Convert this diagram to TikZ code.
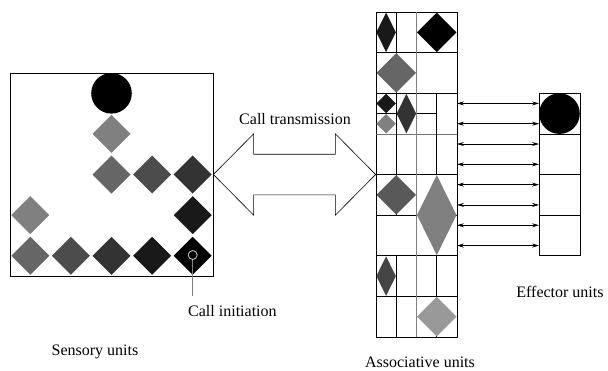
\documentclass[tikz,border=0pt]{standalone}
\usepackage{fontspec}
\setmainfont{Liberation Serif}
\usepackage{tikz}
\usetikzlibrary{arrows.meta,%
                shapes.geometric,positioning}

\begin{document}
\begin{tikzpicture}[x=1pt,y=-1pt,
  unitbox/.style={draw,line width=0.8pt,inner sep=0pt},
  dia/.style={diamond,draw=none,inner sep=0pt,outer sep=0pt},
  blob/.style={circle,fill=black,inner sep=0pt,minimum size=40.6pt},
  gridline/.style={line width=0.8pt},
  biarrow/.style={{Stealth[length=7pt,width=4pt,inset=2.5pt]}-{Stealth[length=7pt,width=4pt,inset=2.5pt]},line width=0.6pt},
  lbl/.style={font=\fontsize{16}{19}\selectfont,inner sep=0pt,anchor=base}]
\useasboundingbox (0,0) rectangle (608,370);
\node[unitbox,minimum width=203pt,minimum height=203pt] (sens) at (111.5,174.5) {};
\node[blob] (sc) at (111.5,93.3) {};
\node[dia,minimum size=38pt,fill=black!50] (s1) at (111.5,133.9) {};
\node[dia,minimum size=38pt,fill=black!60] (s2) at (111.5,174.5) {};
\node[dia,minimum size=38pt,fill=black!70] (s3) at (152.1,174.5) {};
\node[dia,minimum size=38pt,fill=black!80] (s4) at (192.7,174.5) {};
\node[dia,minimum size=38pt,fill=black!50] (s5) at (30.3,215.1) {};
\node[dia,minimum size=38pt,fill=black!90] (s6) at (192.7,215.1) {};
\node[dia,minimum size=38pt,fill=black!60] (s7) at (30.3,255.75) {};
\node[dia,minimum size=38pt,fill=black!70] (s8) at (70.9,255.75) {};
\node[dia,minimum size=38pt,fill=black!80] (s9) at (111.5,255.75) {};
\node[dia,minimum size=38pt,fill=black!90] (s10) at (152.1,255.75) {};
\node[dia,minimum size=38pt,fill=black] (s11) at (192.7,255.75) {};
\node[circle,draw=black!20,line width=0.8pt,minimum size=9pt,inner sep=0pt] (ci) at (192.7,255) {};
\coordinate (ciend) at (192.7,296);
\draw[black!50,line width=0.8pt] (ci) -- (ciend);
\node[lbl,anchor=base west] (cil) at (188,316) {Call initiation};
\node[lbl] (sensl) at (95,355) {Sensory units};
\node[unitbox,minimum width=81pt,minimum height=325pt] (assoc) at (416.5,174.5) {};
\draw[line width=0.6pt] (sens.east) -- (253.6,133.9) -- (253.6,154.2) -- (335.4,154.2) -- (335.4,133.9)
  -- (assoc.west) -- (335.4,215.1) -- (335.4,194.8) -- (253.6,194.8) -- (253.6,215.1) -- cycle;
\node[lbl] (ctl) at (295,124) {Call transmission};
\foreach \yy in {52.6,93.25,174.5,215.1,255.75,296.4}
  \draw[gridline] (376,\yy) -- (457,\yy);
\draw[gridline,black!55] (376,133.9) -- (457,133.9);
\draw[gridline] (376,113.6) -- (436.75,113.6);
\draw[gridline] (396.25,12) -- (396.25,215.1) (396.25,255.75) -- (396.25,337);
\draw[gridline] (436.75,93.25) -- (436.75,174.5) (436.75,255.75) -- (436.75,337);
\draw[gridline,black!50,line width=1pt] (416.5,12) -- (416.5,337);
\node[dia,minimum width=19.5pt,minimum height=39.5pt,fill=black!90] (a1) at (386.1,32.3) {};
\node[dia,minimum width=39.5pt,minimum height=39.5pt,fill=black] (a2) at (436.75,32.3) {};
\node[dia,minimum width=39.5pt,minimum height=39.5pt,fill=black!60] (a3) at (396.25,72.9) {};
\node[dia,minimum width=19.5pt,minimum height=19.5pt,fill=black!90] (a4) at (386.1,103.4) {};
\node[dia,minimum width=19.5pt,minimum height=19.5pt,fill=black!50] (a5) at (386.1,123.75) {};
\node[dia,minimum width=19.5pt,minimum height=39.5pt,fill=black!80] (a6) at (406.4,113.6) {};
\node[dia,minimum width=39.5pt,minimum height=39.5pt,fill=black!65] (a7) at (396.25,194.8) {};
\node[dia,minimum width=39.5pt,minimum height=80pt,fill=black!50] (a8) at (436.75,215.1) {};
\node[dia,minimum width=19.5pt,minimum height=39.5pt,fill=black!73] (a9) at (386.1,276.1) {};
\node[dia,minimum width=39.5pt,minimum height=39.5pt,fill=black!40] (a10) at (436.75,316.7) {};
\node[lbl] (assl) at (420,367) {Associative units};
\node[unitbox,minimum width=41pt,minimum height=162.5pt] (eff) at (559.5,174.5) {};
\foreach \yy in {133.9,174.5,215.1}
  \draw[gridline] (539,\yy) -- (580,\yy);
\node[blob] (ec) at (559.5,113.6) {};
\node[lbl] (effl) at (560,297) {Effector units};
\foreach \k in {0,...,7}{
  \coordinate (al\k) at (457,{103.4+20.31*\k});
  \coordinate (er\k) at (539,{103.4+20.31*\k});
  \draw[biarrow] (al\k) -- (er\k);
}
\end{tikzpicture}
\end{document}
